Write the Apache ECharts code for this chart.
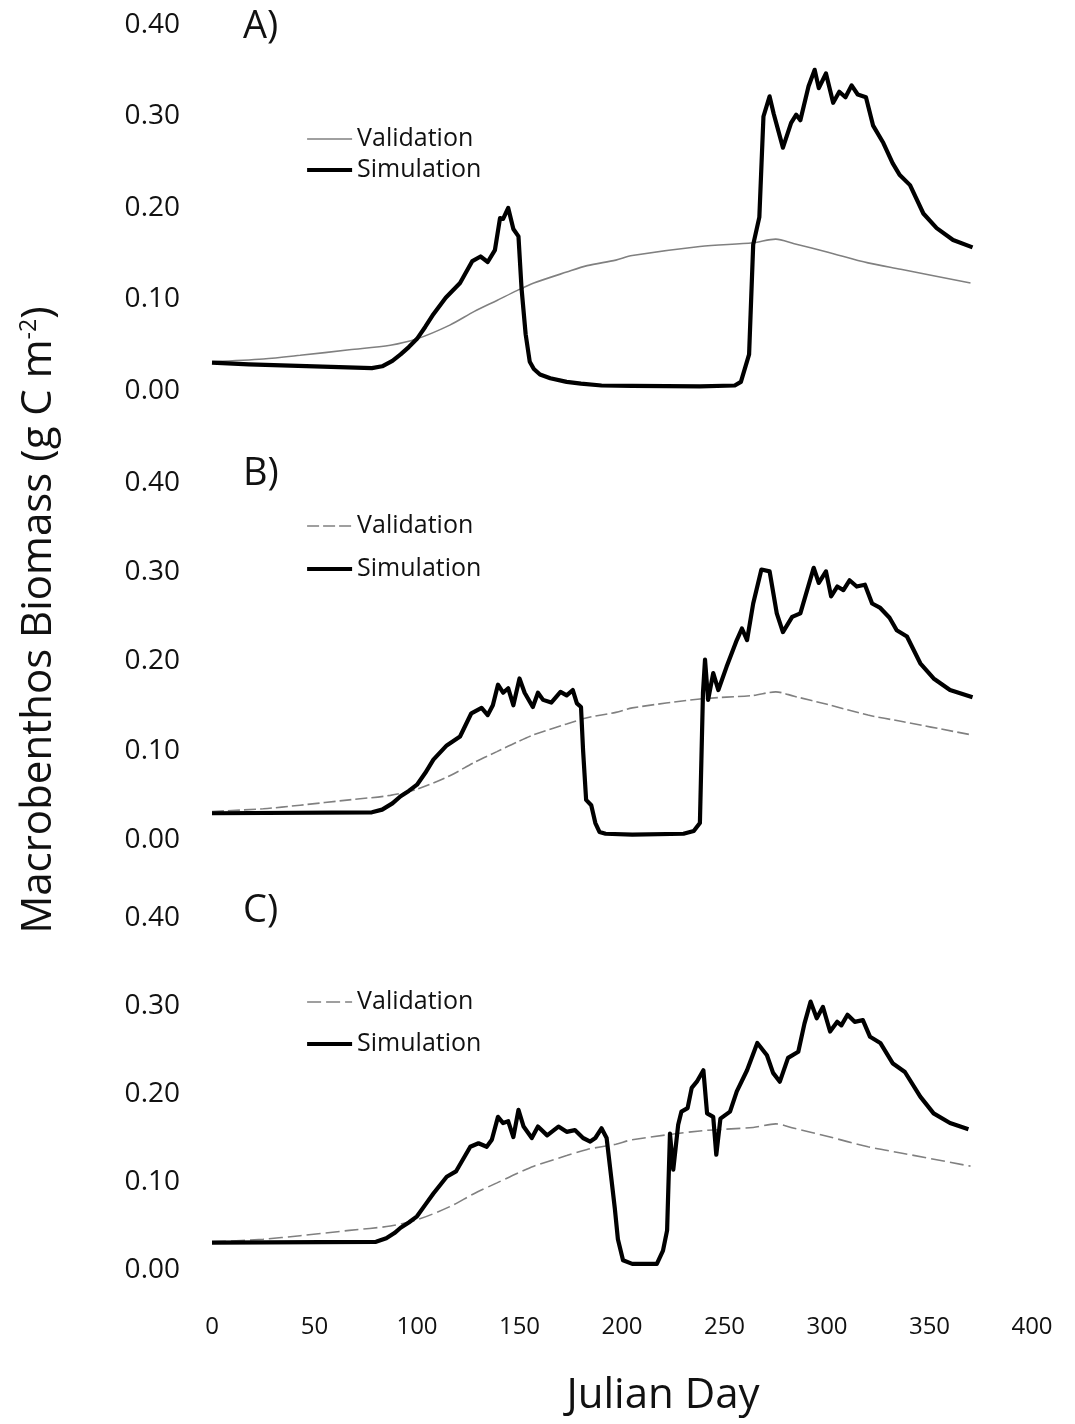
<!DOCTYPE html>
<html>
<head>
<meta charset="utf-8">
<script src="https://cdn.jsdelivr.net/npm/echarts@6.0.0/dist/echarts.min.js"></script>
<style>
html,body{margin:0;padding:0;background:#ffffff;}
#chart{width:1075px;height:1424px;}
</style>
</head>
<body>
<div id="chart"></div>
<script>
// ---- tick labels ----
const xTickValues = [0, 50, 100, 150, 200, 250, 300, 350, 400];
const yTickValues = [0.00, 0.10, 0.20, 0.30, 0.40];
const panelLabels = ['A)', 'B)', 'C)'];
const seriesNames = ['Validation', 'Simulation'];

// ---- Validation (same observed curve in all three panels) ----
const validationDays   = [0, 25, 43, 67, 87, 100, 116, 128, 139, 149, 157, 173, 183, 197, 205, 238, 264, 275, 284, 300, 320, 336, 370];
const validationValues = [0.032, 0.035, 0.039, 0.045, 0.050, 0.057, 0.072, 0.087, 0.099, 0.110, 0.118, 0.130, 0.137, 0.143, 0.148, 0.158, 0.162, 0.166, 0.161, 0.152, 0.140, 0.133, 0.118];

// ---- Simulation, panel A ----
const simADays   = [0, 18, 50, 78, 83, 88, 92, 96, 100, 104, 108, 114, 121, 127, 131, 134.5, 138, 140.5, 142, 144.5, 147, 149.5, 151, 153, 155, 157, 160, 165, 173, 180, 190, 205, 238, 255, 258, 262, 264, 267, 269, 272, 274, 278.5, 282.5, 285, 287, 291, 294, 296, 299.5, 303, 306, 309, 312, 315, 319, 322.5, 327.5, 332, 335.5, 340.5, 347, 353.5, 361.5, 371];
const simAValues = [0.031, 0.029, 0.027, 0.025, 0.027, 0.033, 0.040, 0.048, 0.057, 0.070, 0.084, 0.102, 0.118, 0.142, 0.147, 0.141, 0.154, 0.189, 0.188, 0.200, 0.177, 0.169, 0.112, 0.062, 0.032, 0.024, 0.018, 0.014, 0.010, 0.008, 0.006, 0.0055, 0.005, 0.006, 0.010, 0.040, 0.160, 0.190, 0.300, 0.322, 0.303, 0.266, 0.293, 0.302, 0.296, 0.333, 0.351, 0.331, 0.347, 0.315, 0.327, 0.321, 0.334, 0.324, 0.321, 0.290, 0.271, 0.249, 0.236, 0.225, 0.194, 0.178, 0.165, 0.157];

// ---- Simulation, panel B ----
const simBDays   = [0, 78, 83, 88, 92, 96, 100, 104, 108, 114.5, 121, 126.5, 131.5, 134.5, 137, 139.5, 142, 144.5, 147, 150, 152.5, 156.5, 159, 161.5, 165.5, 170, 173, 176, 178, 180, 181, 182.5, 185, 187, 189, 192, 205, 230, 235, 238, 239.5, 240.5, 242, 244.5, 247, 251, 256, 258.5, 261, 264, 268, 272, 275.5, 278.5, 283, 287, 293.5, 296, 299.5, 302, 305, 308, 311, 314.5, 318.5, 322, 326, 330.5, 334, 339, 345.5, 352, 360, 371];
const simBValues = [0.030, 0.031, 0.034, 0.041, 0.049, 0.055, 0.062, 0.075, 0.090, 0.106, 0.116, 0.142, 0.148, 0.140, 0.151, 0.174, 0.165, 0.170, 0.151, 0.181, 0.165, 0.149, 0.165, 0.157, 0.154, 0.166, 0.162, 0.168, 0.153, 0.149, 0.101, 0.045, 0.039, 0.019, 0.009, 0.007, 0.006, 0.007, 0.010, 0.019, 0.165, 0.202, 0.157, 0.187, 0.168, 0.194, 0.224, 0.237, 0.224, 0.265, 0.303, 0.301, 0.254, 0.233, 0.250, 0.254, 0.305, 0.288, 0.301, 0.273, 0.284, 0.280, 0.291, 0.284, 0.286, 0.265, 0.260, 0.249, 0.235, 0.228, 0.198, 0.181, 0.168, 0.160];

// ---- Simulation, panel C ----
const simCDays   = [0, 80, 85, 89, 92, 96, 100, 104, 108, 114.5, 119, 126, 130, 134, 136.5, 139.5, 142, 144.5, 147, 149.5, 152, 156, 159, 163.5, 169, 173, 177, 181, 184.5, 187, 190, 192.5, 195, 196.5, 198, 200.5, 205, 217, 220, 222, 223.4, 225, 227.4, 229, 232, 234, 236.5, 239.7, 241.5, 244.5, 246, 248, 252.7, 256, 261, 266, 270.7, 273.7, 277, 281, 286, 289, 292, 295, 298, 301.5, 305, 307, 310, 313.5, 317.5, 321, 326, 332, 338, 345.5, 352, 360, 369];
const simCValues = [0.031, 0.032, 0.036, 0.042, 0.048, 0.054, 0.061, 0.074, 0.087, 0.106, 0.112, 0.140, 0.144, 0.140, 0.148, 0.174, 0.167, 0.169, 0.151, 0.182, 0.163, 0.150, 0.163, 0.153, 0.163, 0.157, 0.159, 0.150, 0.146, 0.150, 0.161, 0.150, 0.100, 0.070, 0.035, 0.011, 0.007, 0.007, 0.022, 0.045, 0.155, 0.114, 0.165, 0.180, 0.184, 0.207, 0.214, 0.227, 0.178, 0.174, 0.131, 0.172, 0.180, 0.203, 0.227, 0.258, 0.244, 0.224, 0.214, 0.241, 0.248, 0.280, 0.305, 0.286, 0.299, 0.271, 0.282, 0.278, 0.290, 0.282, 0.284, 0.265, 0.258, 0.235, 0.225, 0.197, 0.178, 0.167, 0.160];

function zip(days, vals) { return days.map((d, i) => [d, vals[i]]); }

const simSets = [zip(simADays, simAValues), zip(simBDays, simBValues), zip(simCDays, simCValues)];
const validationData = zip(validationDays, validationValues);

const FONT = '"Open Sans", "DejaVu Sans", sans-serif';
const grids = [
  { left: 212, top: 25,  width: 820, height: 366 },
  { left: 212, top: 483, width: 820, height: 357 },
  { left: 212, top: 918, width: 820, height: 352 }
];
const legendTops = [126, 513, 989];
const legendGaps = [5, 17, 16];
const valDash = ['solid', [12, 4], [14, 5]];
const labelTops = [8, 455, 892];
const SIM_W = 4.2, VAL_W = 1.6, VAL_C = '#808080', SIM_C = '#000000';

const xAxes = grids.map((g, i) => ({
  type: 'value', gridIndex: i, min: 0, max: 400, interval: 50,
  axisLine: { show: false }, axisTick: { show: false }, splitLine: { show: false },
  axisLabel: {
    show: i === 2, margin: 45, color: '#111', fontSize: 24, fontFamily: FONT
  }
}));
const yAxes = grids.map((g, i) => ({
  type: 'value', gridIndex: i, min: 0, max: 0.4, interval: 0.1,
  axisLine: { show: false }, axisTick: { show: false }, splitLine: { show: false },
  axisLabel: {
    margin: 32, color: '#111', fontSize: 28, fontFamily: FONT,
    formatter: v => v.toFixed(2)
  }
}));

const series = [];
grids.forEach((g, i) => {
  series.push({
    name: seriesNames[0], type: 'line', xAxisIndex: i, yAxisIndex: i,
    data: validationData, symbol: 'none', smooth: 0.3, silent: true,
    itemStyle: { color: VAL_C },
    lineStyle: { color: VAL_C, width: VAL_W, type: valDash[i] }, z: 2
  });
  series.push({
    name: seriesNames[1], type: 'line', xAxisIndex: i, yAxisIndex: i,
    data: simSets[i], symbol: 'none', smooth: false, silent: true,
    itemStyle: { color: SIM_C },
    lineStyle: { color: SIM_C, width: SIM_W, join: 'round' }, z: 3
  });
});

const legends = grids.map((g, i) => ({
  show: true, orient: 'vertical', left: 305, top: legendTops[i], itemGap: legendGaps[i],
  padding: 0, itemWidth: 45, itemHeight: 14, selectedMode: false,
  textStyle: { fontSize: 25, fontFamily: FONT, color: '#111', lineHeight: 26 },
  data: [
    { name: seriesNames[0], itemStyle: { opacity: 0 }, lineStyle: { color: VAL_C, width: VAL_W, type: valDash[i] } },
    { name: seriesNames[1], itemStyle: { opacity: 0 }, lineStyle: { color: SIM_C, width: SIM_W } }
  ]
}));

const graphics = [];
panelLabels.forEach((t, i) => {
  graphics.push({
    type: 'text', left: 243, top: labelTops[i],
    style: { text: t, fontSize: 38, fontFamily: FONT, fill: '#111' }
  });
});
graphics.push({
  type: 'text', x: 18, y: 620, rotation: Math.PI / 2,
  style: {
    text: 'Macrobenthos Biomass (g C m{sup|-2})',
    fontSize: 42, fontFamily: FONT, fill: '#111',
    align: 'center', verticalAlign: 'top',
    rich: { sup: { fontSize: 23, fontFamily: FONT, fill: '#111', verticalAlign: 'top', padding: [0, 0, 18, 0] } }
  }
});
graphics.push({
  type: 'text', x: 663, y: 1375,
  style: { text: 'Julian Day', fontSize: 42, fontFamily: FONT, fill: '#111', align: 'center' }
});

const chart = echarts.init(document.getElementById('chart'), null, { renderer: 'canvas' });
chart.setOption({
  backgroundColor: '#ffffff',
  animation: false,
  grid: grids,
  xAxis: xAxes,
  yAxis: yAxes,
  legend: legends,
  series: series,
  graphic: graphics
});
</script>
</body>
</html>
